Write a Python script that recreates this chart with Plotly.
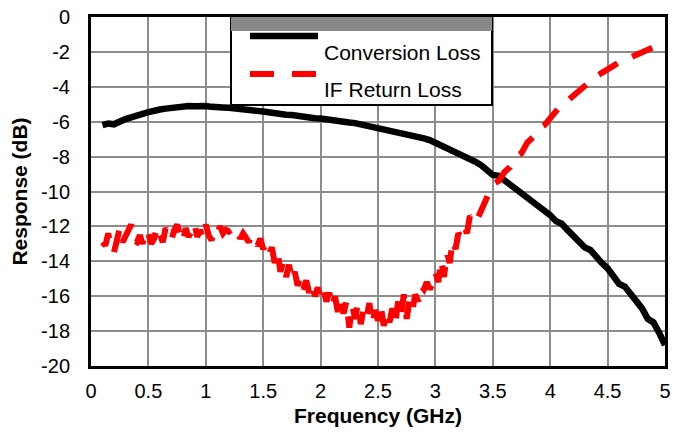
import plotly.graph_objects as go

# Frequency sweep for conversion loss (GHz)
freq_ghz = [round(0.10 + 0.05 * i, 2) for i in range(99)]

# Conversion loss (dB)
conversion_loss = [
    -6.20, -6.10, -6.15, -5.95, -5.85, -5.75, -5.60, -5.55, -5.45, -5.35,
    -5.30, -5.25, -5.20, -5.15, -5.12, -5.10, -5.12, -5.08, -5.10, -5.15,
    -5.12, -5.18, -5.20, -5.22, -5.28, -5.30, -5.35, -5.38, -5.42, -5.48,
    -5.50, -5.55, -5.60, -5.62, -5.68, -5.70, -5.75, -5.80, -5.82, -5.88,
    -5.90, -5.95, -5.98, -6.05, -6.08, -6.15, -6.20, -6.25, -6.30, -6.38,
    -6.45, -6.52, -6.60, -6.65, -6.75, -6.85, -6.95, -7.05, -7.20, -7.30,
    -7.45, -7.60, -7.75, -7.95, -8.10, -8.30, -8.50, -8.75, -9.05, -9.10,
    -9.35, -9.50, -9.85, -10.05, -10.30, -10.50, -10.80, -11.10, -11.35, -11.70,
    -11.85, -12.20, -12.50, -12.80, -13.20, -13.35, -13.75, -14.10, -14.40, -14.80,
    -15.30, -15.45, -15.85, -16.30, -16.70, -17.30, -17.50, -18.10, -18.80,
]

# Frequency sweep for IF return loss: fine steps up to 3.3 GHz, then 50 MHz
if_freq_ghz = ([round(0.10 + 0.025 * i, 3) for i in range(129)]
               + [round(3.35 + 0.05 * i, 2) for i in range(34)])

# IF return loss (dB)
if_return_loss = [
    # 0.100 - 1.200 GHz
    -12.9, -13.1, -12.4, -13.3, -13.5, -12.8, -12.1, -12.9, -12.6, -12.3,
    -11.9, -12.8, -12.9, -12.5, -13.0, -12.2, -12.4, -13.0, -12.7, -12.0,
    -12.6, -12.9, -12.1, -12.4, -12.8, -12.2, -11.9, -12.5, -12.9, -12.1,
    -12.6, -12.3, -11.8, -12.6, -12.2, -12.7, -11.9, -12.5, -12.8, -12.1,
    -12.3, -12.0, -12.4, -12.2, -12.3,
    # 1.225 - 2.000 GHz
    -12.2, -12.5, -12.3, -12.7, -12.4, -12.6, -12.9, -12.5, -12.8, -13.1,
    -12.7, -13.3, -13.0, -13.6, -13.2, -14.1, -13.5, -14.6, -14.0, -14.9,
    -14.2, -15.1, -14.6, -15.4, -14.9, -15.6, -15.1, -15.8, -15.3, -16.0,
    -15.5, -16.1,
    # 2.025 - 2.800 GHz
    -15.6, -16.3, -15.8, -16.6, -16.0, -16.9, -16.2, -17.0, -16.3, -17.8,
    -16.5, -17.3, -16.4, -17.6, -16.7, -17.2, -16.4, -17.6, -16.8, -17.4,
    -16.6, -17.7, -16.9, -17.5, -16.7, -17.6, -16.3, -17.2, -15.9, -17.3,
    -16.2, -16.8,
    # 2.825 - 3.300 GHz
    -15.9, -16.3, -15.4, -15.6, -15.2, -15.6, -15.3, -14.6, -15.2, -13.9,
    -14.9, -13.5, -14.1, -12.8, -13.3, -12.4, -12.6, -12.0, -12.4, -11.4,
    # 3.35 - 5.00 GHz
    -11.8, -11.0, -10.3, -9.6, -9.4, -8.9, -8.6, -8.0, -7.8, -7.2,
    -6.9, -6.4, -6.2, -5.8, -5.4, -5.0, -4.8, -4.5, -4.2, -3.9,
    -3.6, -3.4, -3.2, -2.95, -2.8, -2.6, -2.45, -2.3, -2.15, -2.0,
    -1.85, -1.75, -1.6, -1.45,
]

x_ticks = [0, 0.5, 1, 1.5, 2, 2.5, 3, 3.5, 4, 4.5, 5]
x_tick_text = ["0", "0.5", "1", "1.5", "2", "2.5", "3", "3.5", "4", "4.5", "5"]
y_ticks = list(range(-20, 1, 2))
y_tick_text = [str(v) for v in y_ticks]

series_names = ["Conversion Loss", "IF Return Loss"]

FONT = "Liberation Sans, Arial, sans-serif"
W, H = 673, 432
PL, PR, PT, PB = 91, 665, 17, 366


def px_x(p):
    return (p - PL) / (PR - PL)


def px_y(p):
    return (PB - p) / (PB - PT)


fig = go.Figure()
fig.add_trace(go.Scatter(
    x=freq_ghz, y=conversion_loss, mode="lines", name=series_names[0],
    line=dict(color="black", width=6.5), showlegend=False,
))
fig.add_trace(go.Scatter(
    x=if_freq_ghz, y=if_return_loss, mode="lines", name=series_names[1],
    line=dict(color="#ff0000", width=6, dash="22px,16px"), showlegend=False,
))

# Legend box drawn as layout decoration
shapes = [
    dict(type="rect", xref="paper", yref="paper",
         x0=px_x(231), x1=px_x(492), y0=px_y(105), y1=px_y(17),
         fillcolor="white", line=dict(color="black", width=2), layer="above"),
    dict(type="rect", xref="paper", yref="paper",
         x0=px_x(231), x1=px_x(492), y0=px_y(31), y1=px_y(17),
         fillcolor="#888888", line=dict(width=0), layer="above"),
    dict(type="line", xref="paper", yref="paper",
         x0=px_x(250), x1=px_x(318), y0=px_y(36), y1=px_y(36),
         line=dict(color="black", width=6.5), layer="above"),
    dict(type="line", xref="paper", yref="paper",
         x0=px_x(250), x1=px_x(317), y0=px_y(74), y1=px_y(74),
         line=dict(color="#ff0000", width=6, dash="24px,18px"), layer="above"),
]
annotations = [
    dict(xref="paper", yref="paper", x=px_x(322), y=px_y(52), text=series_names[0],
         showarrow=False, xanchor="left", yanchor="middle",
         font=dict(family=FONT, size=21, color="black")),
    dict(xref="paper", yref="paper", x=px_x(322), y=px_y(89), text=series_names[1],
         showarrow=False, xanchor="left", yanchor="middle",
         font=dict(family=FONT, size=21, color="black")),
]

fig.update_layout(
    width=W, height=H,
    margin=dict(l=PL, r=W - PR, t=PT, b=H - PB, autoexpand=False),
    paper_bgcolor="white", plot_bgcolor="white",
    font=dict(family=FONT, color="black"),
    shapes=shapes, annotations=annotations,
    showlegend=False,
)
fig.update_xaxes(
    range=[0, 5], tickvals=x_ticks, ticktext=x_tick_text,
    showgrid=True, gridcolor="#8c8c8c", gridwidth=2,
    showline=True, linecolor="black", linewidth=3, mirror=True,
    ticks="", zeroline=False, ticklabelstandoff=5, automargin=False,
    tickfont=dict(family=FONT, size=20),
    title=dict(text="<b>Frequency (GHz)</b>", font=dict(family=FONT, size=21), standoff=8),
)
fig.update_yaxes(
    range=[-20, 0], tickvals=y_ticks, ticktext=y_tick_text,
    showgrid=True, gridcolor="#8c8c8c", gridwidth=2,
    showline=True, linecolor="black", linewidth=3, mirror=True,
    ticks="", zeroline=False, ticklabelstandoff=14, automargin=False,
    tickfont=dict(family=FONT, size=20),
    title=dict(text="<b>Response (dB)</b>", font=dict(family=FONT, size=21), standoff=8),
)

fig.write_html("out.html")
